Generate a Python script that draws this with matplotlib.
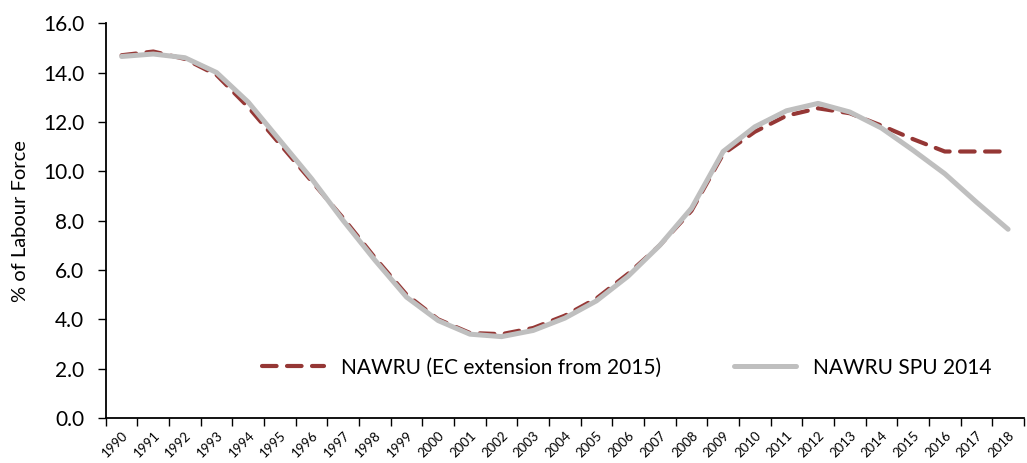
import matplotlib
matplotlib.use("Agg")
import matplotlib.pyplot as plt
import numpy as np

years = list(range(1990, 2019))
nawru_ec = [14.7, 14.85, 14.55, 13.9, 12.6, 11.1, 9.6, 8.1, 6.5, 5.0, 4.0, 3.45, 3.4, 3.65,
            4.15, 4.85, 5.85, 7.0, 8.4, 10.7, 11.6, 12.25, 12.55, 12.35, 11.85, 11.3, 10.8, 10.8, 10.8]
nawru_spu = [14.65, 14.75, 14.6, 14.0, 12.8, 11.25, 9.7, 8.0, 6.4, 4.9, 3.95, 3.4, 3.3, 3.55,
             4.05, 4.75, 5.75, 7.0, 8.5, 10.8, 11.8, 12.45, 12.75, 12.4, 11.75, 10.85, 9.9, 8.75, 7.65]
labels = ["NAWRU (EC extension from 2015)", "NAWRU SPU 2014"]
yticks = [0, 2, 4, 6, 8, 10, 12, 14, 16]

plt.rcParams['font.family'] = ['Lato', 'DejaVu Sans']
fig = plt.figure(figsize=(10.27, 4.63), dpi=100)
ax = fig.add_axes([0.103, 0.097, 0.894, 0.853])
x = np.arange(len(years))
ax.plot(x, nawru_ec, color='#953735', lw=3.0, ls=(0, (3.5, 2.5)), dash_capstyle='round',
        label=labels[0], zorder=2)
ax.plot(x, nawru_spu, color='#BFBFBF', lw=3.6, solid_capstyle='round', label=labels[1], zorder=3)

ax.set_xlim(-0.5, len(years) - 0.5)
ax.set_ylim(0, 16)
ax.set_yticks(yticks)
ax.set_yticklabels([f"{v:.1f}" for v in yticks], fontsize=15)
ax.set_xticks(x)
ax.set_xticklabels([str(y) for y in years], rotation=45, fontsize=9.5, ha='right', rotation_mode='anchor')
ax.tick_params(axis='x', which='major', length=0, pad=8)
ax.set_xticks(np.arange(-0.5, len(years), 1), minor=True)
ax.tick_params(axis='x', which='minor', length=5.5, width=1, direction='out')
ax.tick_params(axis='y', length=5.5, width=1, direction='out', pad=10)
for s in ['top', 'right']:
    ax.spines[s].set_visible(False)
ax.spines['left'].set_linewidth(1.3)
ax.spines['bottom'].set_linewidth(1.3)
ax.set_ylabel("% of Labour Force", fontsize=14.5, labelpad=10)

h, l = ax.get_legend_handles_labels()
ax.legend(h, l, ncol=2, frameon=False, fontsize=15,
          loc='lower right', bbox_to_anchor=(0.985, 0.055), handlelength=3.0, columnspacing=3.5)

fig.savefig("out.png", dpi=100)
